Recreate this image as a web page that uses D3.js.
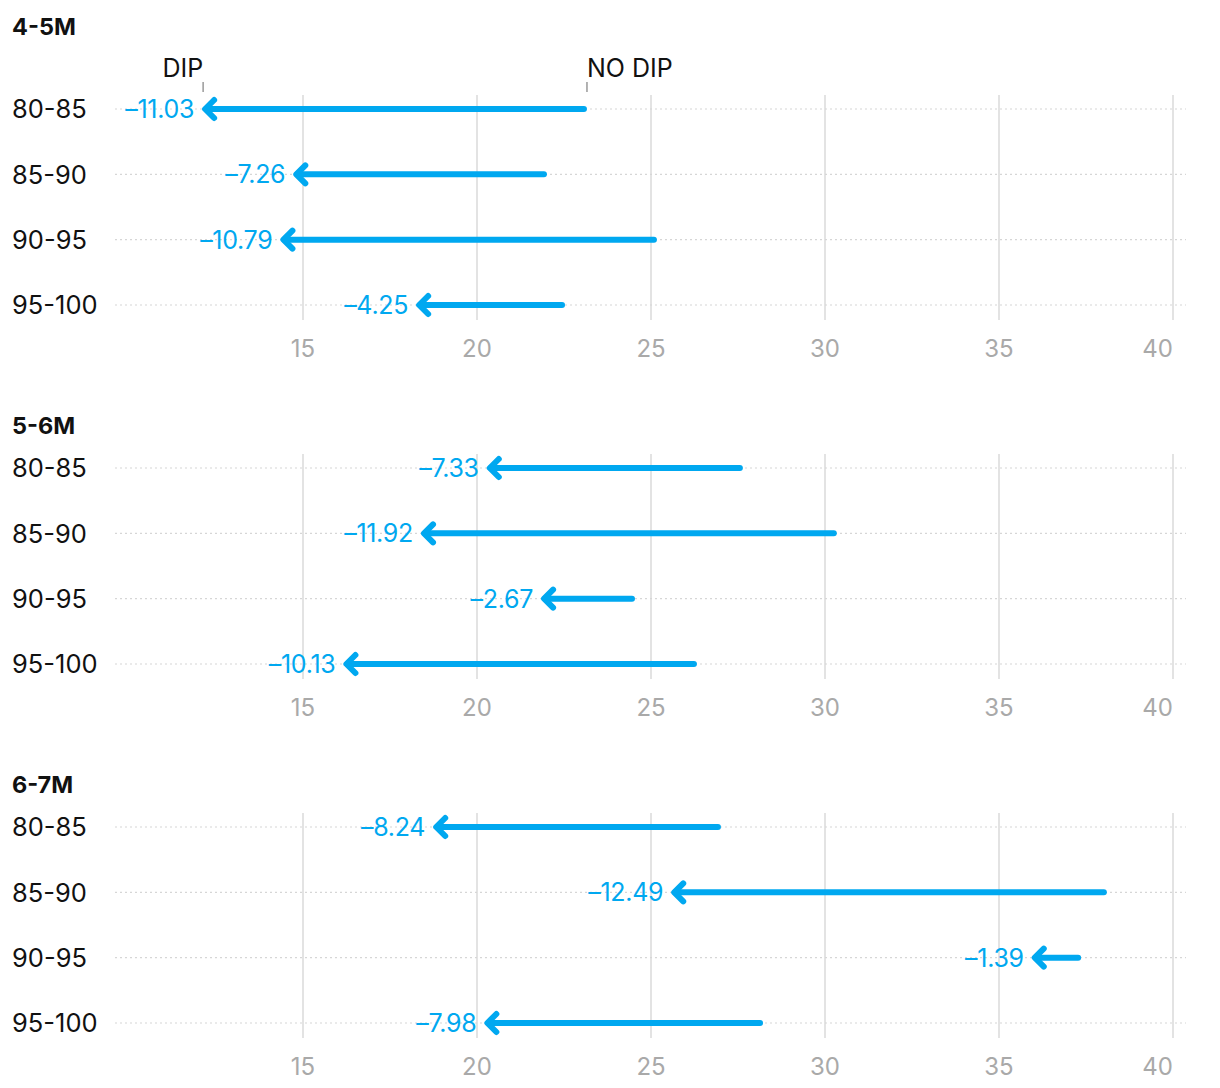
<!DOCTYPE html>
<html><head><meta charset="utf-8">
<script src="https://cdn.jsdelivr.net/npm/d3@7"></script>
<style>
body{margin:0;background:#fff;}
svg text{font-family:Inter,"Open Sans",sans-serif;}
</style></head><body>
<script>
const panels = ["4-5M","5-6M","6-7M"];
const rows = ["80-85","85-90","90-95","95-100"];
const noDip = [
  [23.16, 22.01, 25.17, 22.53],
  [27.64, 30.34, 24.54, 26.32],
  [27.01, 38.10, 37.36, 28.22]
];
const change = [
  [-11.03, -7.26, -10.79, -4.25],
  [-7.33, -11.92, -2.67, -10.13],
  [-8.24, -12.49, -1.39, -7.98]
];
const ticks = [15,20,25,30,35,40];

const W=1220,H=1088;
const svg=d3.select("body").append("svg").attr("width",W).attr("height",H);
const x=d3.scaleLinear().domain([15,40]).range([303,1173]);
const panelY=d3.scalePoint().domain(panels).range([109,827]);
const y=d3.scalePoint().domain(rows).range([0,196]);
const blue="#00a8f0";
const fmt=v=>(v<0?"\u2013":"")+Math.abs(v).toFixed(2);

panels.forEach((p,pi)=>{
  const g=svg.append("g").attr("transform",`translate(0,${panelY(p)})`);
  g.append("text").attr("x",12).attr("y",pi===0?-82:-42).attr("dy","0.36em")
    .attr("font-size",23.5).attr("font-weight",700).attr("fill","#111").text(p);
  g.selectAll(".grid").data(ticks).join("line")
    .attr("x1",d=>x(d)).attr("x2",d=>x(d)).attr("y1",-14).attr("y2",211)
    .attr("stroke","#e3e3e3").attr("stroke-width",2);
  g.selectAll(".tl").data(ticks).join("text")
    .attr("x",d=>x(d)).attr("y",239).attr("dy","0.36em")
    .attr("text-anchor",d=>d===40?"end":"middle")
    .attr("font-size",24).attr("fill","#a9a9a9").text(d=>d);
  g.selectAll(".rl").data(rows).join("line")
    .attr("x1",115).attr("x2",1186).attr("y1",d=>y(d)).attr("y2",d=>y(d))
    .attr("stroke","#d6d6d6").attr("stroke-width",1.2).attr("stroke-dasharray","2,3");
  g.selectAll(".rlab").data(rows).join("text")
    .attr("x",12).attr("y",d=>y(d)).attr("dy","0.36em")
    .attr("font-size",25.5).attr("fill","#111").text(d=>d);
  rows.forEach((r,ri)=>{
    const s=noDip[pi][ri], e=s+change[pi][ri], yy=y(r);
    g.append("line").attr("x1",x(s)-3).attr("x2",x(e)+3).attr("y1",yy).attr("y2",yy)
      .attr("stroke",blue).attr("stroke-width",6).attr("stroke-linecap","round");
    const tx=x(e);
    g.append("path").attr("d",`M${tx+11},${yy-9}L${tx+2},${yy}L${tx+11},${yy+9}`)
      .attr("fill","none").attr("stroke",blue).attr("stroke-width",6)
      .attr("stroke-linecap","round").attr("stroke-linejoin","round");
    g.append("text").attr("x",tx-9).attr("y",yy).attr("dy","0.36em")
      .attr("text-anchor","end").attr("font-size",25).attr("fill",blue)
      .attr("letter-spacing",-0.3).text(fmt(change[pi][ri]));
    if(pi===0&&ri===0){
      [[e,"DIP"],[s,"NO DIP"]].forEach(([v,t])=>{
        g.append("line").attr("x1",x(v)).attr("x2",x(v)).attr("y1",-27).attr("y2",-17)
          .attr("stroke","#999").attr("stroke-width",1.5);
        g.append("text").attr("x",x(v)).attr("y",-41).attr("dy","0.36em")
          .attr("text-anchor",t==="DIP"?"end":"start").attr("font-size",25).attr("fill","#111").text(t);
      });
    }
  });
});
</script></body></html>
